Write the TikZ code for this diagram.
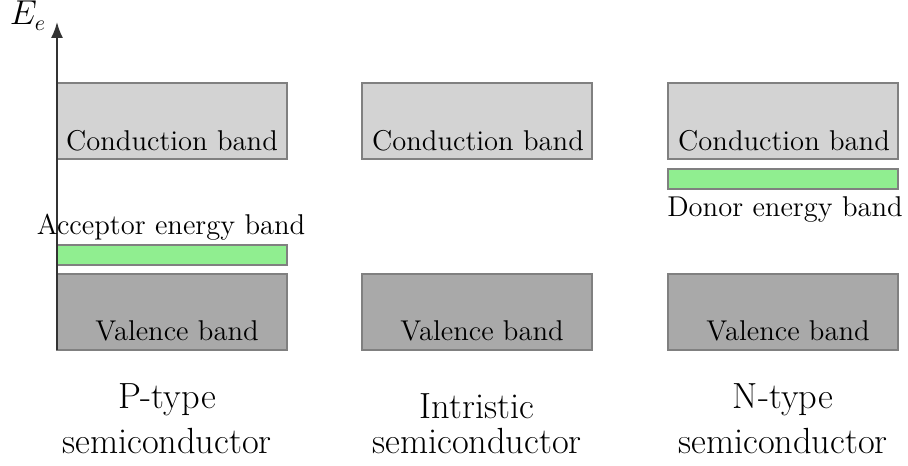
\documentclass[tikz,border=0pt]{standalone}
\usetikzlibrary{arrows.meta}
\definecolor{condfill}{HTML}{D3D3D3}
\definecolor{valfill}{HTML}{A9A9A9}
\definecolor{dopefill}{HTML}{90EE90}
\begin{document}
\begin{tikzpicture}[x=0.5pt,y=-0.5pt,
  lbl/.style={font=\fontsize{14.3}{17}\selectfont, inner sep=0pt, anchor=base},
  title/.style={font=\fontsize{18.2}{22}\selectfont, inner sep=0pt, anchor=base},
  band/.style={draw=gray, line width=0.7pt, minimum width=115pt, inner sep=0pt},
  cband/.style={band, fill=condfill, minimum height=38pt},
  vband/.style={band, fill=valfill, minimum height=38pt},
  gband/.style={band, fill=dopefill, minimum height=10pt},
  axis/.style={line width=0.9pt, draw=black!80, -{Latex[length=8pt,width=6pt]}}]
\useasboundingbox (0,0) rectangle (908,465);

% band boxes
\node[cband] (c1) at (172,121) {};
\node[cband] (c2) at (477,121) {};
\node[cband] (c3) at (783,121) {};
\node[vband] (v1) at (172,312) {};
\node[vband] (v2) at (477,312) {};
\node[vband] (v3) at (783,312) {};
\node[gband] (acc) at (172,255) {};
\node[gband] (don) at (783,179) {};

% energy axis
\coordinate (ax0) at (57,350);
\coordinate (ax1) at (57,22);
\draw[axis] (ax0) -- (ax1);
\node[lbl, font=\fontsize{16}{19}\selectfont] (ee) at (28,25) {$E_e$};

% band labels
\node[lbl] (tc1) at (172,150) {Conduction band};
\node[lbl] (tc2) at (478,150) {Conduction band};
\node[lbl] (tc3) at (784,150) {Conduction band};
\node[lbl] (tv1) at (177,340) {Valence band};
\node[lbl] (tv2) at (482,340) {Valence band};
\node[lbl] (tv3) at (788,340) {Valence band};
\node[lbl] (tacc) at (171,234) {Acceptor energy band};
\node[lbl] (tdon) at (785,216) {Donor energy band};

% material titles
\node[title] (p1) at (167,408) {P-type};
\node[title] (p2) at (167,453) {semiconductor};
\node[title] (i1) at (477,418) {Intristic};
\node[title] (i2) at (477,453) {semiconductor};
\node[title] (n1) at (783,408) {N-type};
\node[title] (n2) at (783,453) {semiconductor};
\end{tikzpicture}
\end{document}
